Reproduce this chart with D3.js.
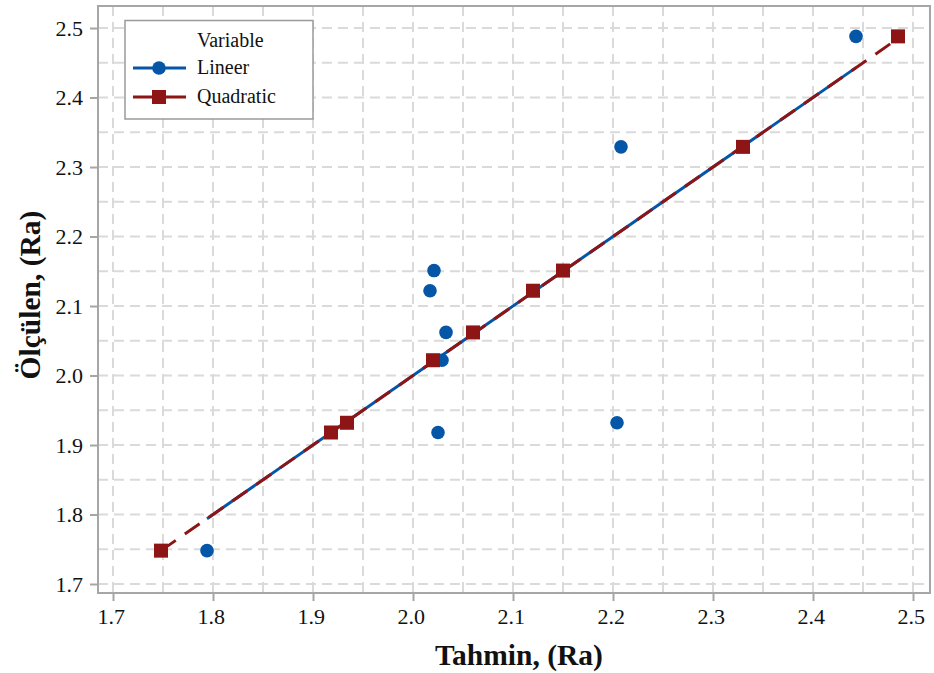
<!DOCTYPE html>
<html>
<head>
<meta charset="utf-8">
<script src="https://cdn.jsdelivr.net/npm/d3@7"></script>
</head>
<body style="margin:0;background:#fff">
<svg id="chart" width="934" height="673" style="display:block"></svg>
<script>
// Measured roughness and the two model predictions
const measured      = [1.748, 1.918, 1.932, 2.022, 2.062, 2.122, 2.151, 2.329, 2.488];
const linearPred    = [1.794, 2.025, 2.204, 2.029, 2.033, 2.017, 2.021, 2.208, 2.443];
const quadraticPred = [1.748, 1.918, 1.934, 2.020, 2.060, 2.120, 2.150, 2.330, 2.485];
const seriesNames   = ["Lineer", "Quadratic"];
const xTicks = [1.7, 1.8, 1.9, 2.0, 2.1, 2.2, 2.3, 2.4, 2.5];
const yTicks = [1.7, 1.8, 1.9, 2.0, 2.1, 2.2, 2.3, 2.4, 2.5];
const gridSteps = d3.range(1.70, 2.5001, 0.05);

const blue = "#0656a8", red = "#8e1515";
const FONT = "Liberation Serif";

const svg = d3.select("#chart");
const L = 98, R = 930, T = 6, B = 593;

const x = d3.scaleLinear().domain([1.685, 2.517]).range([L, R]);
const y = d3.scaleLinear().domain([1.68705, 2.5317]).range([B, T]);

// dashed grid every 0.05
const grid = svg.append("g").attr("stroke", "#dadada").attr("stroke-width", 2)
  .attr("stroke-dasharray", "10,6");
grid.selectAll(".gx").data(gridSteps).join("line")
  .attr("x1", d => x(d)).attr("x2", d => x(d)).attr("y1", T).attr("y2", B);
grid.selectAll(".gy").data(gridSteps).join("line")
  .attr("y1", d => y(d)).attr("y2", d => y(d)).attr("x1", L).attr("x2", R);

// frame
svg.append("rect").attr("x", L).attr("y", T).attr("width", R - L).attr("height", B - T)
  .attr("fill", "none").attr("stroke", "#a6a6a6").attr("stroke-width", 2);

// axes
const xAxis = d3.axisBottom(x).tickValues(xTicks).tickSize(8).tickPadding(7)
  .tickFormat(d3.format(".1f"));
const yAxis = d3.axisLeft(y).tickValues(yTicks).tickSize(8).tickPadding(7)
  .tickFormat(d3.format(".1f"));

const gx = svg.append("g").attr("transform", `translate(0,${B})`).call(xAxis)
  .attr("font-family", FONT);
const gy = svg.append("g").attr("transform", `translate(${L},0)`).call(yAxis)
  .attr("font-family", FONT);
[gx, gy].forEach(g => {
  g.select(".domain").remove();
  g.selectAll(".tick line").attr("stroke", "#a6a6a6").attr("stroke-width", 2);
  g.selectAll(".tick text").attr("font-size", 22)
    .attr("font-family", FONT).attr("fill", "#111");
});
gx.selectAll(".tick text").attr("dx", "-0.1em");

// axis titles
svg.append("text").attr("x", 519).attr("y", 665).attr("text-anchor", "middle")
  .attr("font-size", 29.5).attr("font-weight", "bold").attr("font-family", FONT)
  .attr("fill", "#111").text("Tahmin, (Ra)");
svg.append("text").attr("transform", "translate(40,295) rotate(-90)")
  .attr("text-anchor", "middle").attr("font-size", 29.5).attr("font-weight", "bold")
  .attr("font-family", FONT).attr("fill", "#111").text("Ölçülen, (Ra)");

// y = x reference over each series' prediction range
const linExt = d3.extent(linearPred);
const quadExt = d3.extent(quadraticPred);
const line = d3.line().x(d => x(d)).y(d => y(d));
svg.append("path").datum(linExt).attr("d", line)
  .attr("stroke", blue).attr("stroke-width", 3).attr("fill", "none");
svg.append("path").datum(quadExt).attr("d", line)
  .attr("stroke", red).attr("stroke-width", 3).attr("fill", "none")
  .attr("stroke-dasharray", "18,11");

// markers
svg.append("g").selectAll("circle").data(linearPred).join("circle")
  .attr("cx", d => x(d)).attr("cy", (d, i) => y(measured[i])).attr("r", 6.8)
  .attr("fill", blue);
const sq = 14;
svg.append("g").selectAll("rect").data(quadraticPred).join("rect")
  .attr("x", d => x(d) - sq / 2).attr("y", (d, i) => y(measured[i]) - sq / 2)
  .attr("width", sq).attr("height", sq).attr("fill", red);

// legend
const lg = svg.append("g").attr("font-family", FONT);
lg.append("rect").attr("x", 125).attr("y", 20.5).attr("width", 188).attr("height", 98.5)
  .attr("fill", "#fff").attr("stroke", "#9a9a9a").attr("stroke-width", 1.5);
lg.append("text").attr("x", 197).attr("y", 47).attr("font-size", 20)
  .attr("font-family", FONT).attr("fill", "#111").text("Variable");
const rows = [{ name: seriesNames[0], c: blue, y: 68, shape: "circle" },
              { name: seriesNames[1], c: red, y: 97, shape: "square" }];
rows.forEach(r => {
  lg.append("line").attr("x1", 133).attr("x2", 186).attr("y1", r.y).attr("y2", r.y)
    .attr("stroke", r.c).attr("stroke-width", 3);
  if (r.shape === "circle") {
    lg.append("circle").attr("cx", 159).attr("cy", r.y).attr("r", 6.8).attr("fill", r.c);
  } else {
    lg.append("rect").attr("x", 159 - sq / 2).attr("y", r.y - sq / 2)
      .attr("width", sq).attr("height", sq).attr("fill", r.c);
  }
  lg.append("text").attr("x", 197).attr("y", r.y + 6).attr("font-size", 20)
    .attr("font-family", FONT).attr("fill", "#111").text(r.name);
});
</script>
</body>
</html>
